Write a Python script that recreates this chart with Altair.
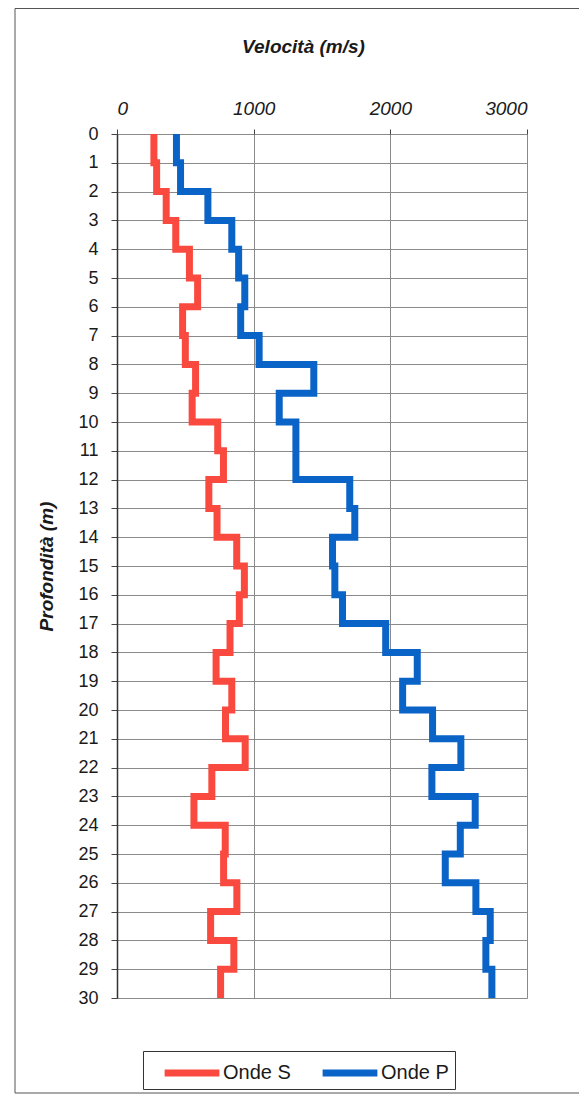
import altair as alt
import pandas as pd

# Depth of the top of each layer (m); each layer is 1 m thick
depth_top = list(range(30))

# Velocities (m/s), one per layer 0-1, 1-2, ..., 29-30
onde_s = [270, 290, 360, 430, 530, 590, 480, 500, 575, 550,
          737, 779, 672, 732, 876, 932, 895, 827, 725, 840,
          794, 938, 694, 563, 792, 780, 877, 685, 855, 758]
onde_p = [435, 465, 665, 840, 890, 935, 905, 1040, 1440, 1187,
          1309, 1309, 1703, 1740, 1577, 1594, 1650, 1966, 2197, 2090,
          2309, 2516, 2304, 2621, 2512, 2402, 2626, 2731, 2699, 2743]

series_names = ["Onde S", "Onde P"]
series_colors = ["#FA4A3F", "#0A64C8"]
x_ticks = [0, 1000, 2000, 3000]
y_ticks = list(range(31))

rows = []
for name, vals in zip(series_names, [onde_s, onde_p]):
    depths = depth_top + [30]
    values = vals + [vals[-1]]
    for d, v in zip(depths, values):
        rows.append({"serie": name, "prof": d, "vel": v})
df = pd.DataFrame(rows)

FONT = "Liberation Sans"
W, H = 410, 864

lines = alt.Chart(df).mark_line(
    interpolate="step-before", strokeWidth=7, strokeJoin="miter", strokeCap="butt"
).encode(
    x=alt.X("vel:Q",
            scale=alt.Scale(domain=[0, 3000], nice=False),
            axis=alt.Axis(orient="top", values=x_ticks, format="d", title="Velocità (m/s)",
                          grid=True, gridColor="#8a8a8a", gridWidth=1,
                          domain=False, ticks=True, tickSize=5, tickColor="#444",
                          labelFont=FONT, labelFontSize=19, labelFontStyle="italic",
                          labelColor="#1a1a1a", labelPadding=11,
                          titleFont=FONT, titleFontSize=19, titleFontStyle="italic",
                          titleFontWeight="bold", titleColor="#1a1a1a",
                          titleX=186, titleY=-82, titleAlign="center",
                          titleBaseline="alphabetic")),
    y=alt.Y("prof:Q",
            scale=alt.Scale(domain=[0, 30], reverse=True, nice=False),
            axis=alt.Axis(values=y_ticks, format="d", title="Profondità  (m)",
                          grid=True, gridColor="#8a8a8a", gridWidth=1,
                          domain=True, domainColor="#333", domainWidth=1.5,
                          ticks=True, tickSize=6, tickColor="#444",
                          labelFont=FONT, labelFontSize=18, labelColor="#1a1a1a",
                          labelPadding=13,
                          titleFont=FONT, titleFontSize=19, titleFontStyle="italic",
                          titleFontWeight="bold", titleColor="#1a1a1a",
                          titleX=-71, titleY=H / 2, titleAngle=270,
                          titleAlign="center", titleBaseline="middle")),
    color=alt.Color("serie:N",
                    scale=alt.Scale(domain=series_names, range=series_colors),
                    legend=alt.Legend(title=None, orient="none", legendX=44, legendY=908,
                                      direction="horizontal", symbolType="stroke",
                                      symbolStrokeWidth=7, symbolSize=3000,
                                      labelFont=FONT, labelFontSize=20,
                                      labelColor="#1a1a1a", labelOffset=0,
                                      columnPadding=17, padding=0)),
    order=alt.Order("prof:Q"),
)

frame = pd.DataFrame({"a": [0]})

border = alt.Chart(frame).mark_rect(
    fill="transparent", stroke="#555", strokeWidth=1
).encode(
    x=alt.value(-102), x2=alt.value(480),
    y=alt.value(-125.5), y2=alt.value(959),
)

legend_box = alt.Chart(frame).mark_rect(
    fill="transparent", stroke="#333", strokeWidth=1
).encode(
    x=alt.value(26.5), x2=alt.value(338.5),
    y=alt.value(917.5), y2=alt.value(955.5),
)

chart = alt.layer(border, legend_box, lines).properties(
    width=W, height=H,
    autosize=alt.AutoSizeParams(type="none"),
    padding={"left": 109, "top": 126, "right": 52, "bottom": 97},
).configure_view(strokeWidth=0).configure(background="white")

chart.save("out.html", embed_options={"renderer": "svg", "actions": False})
